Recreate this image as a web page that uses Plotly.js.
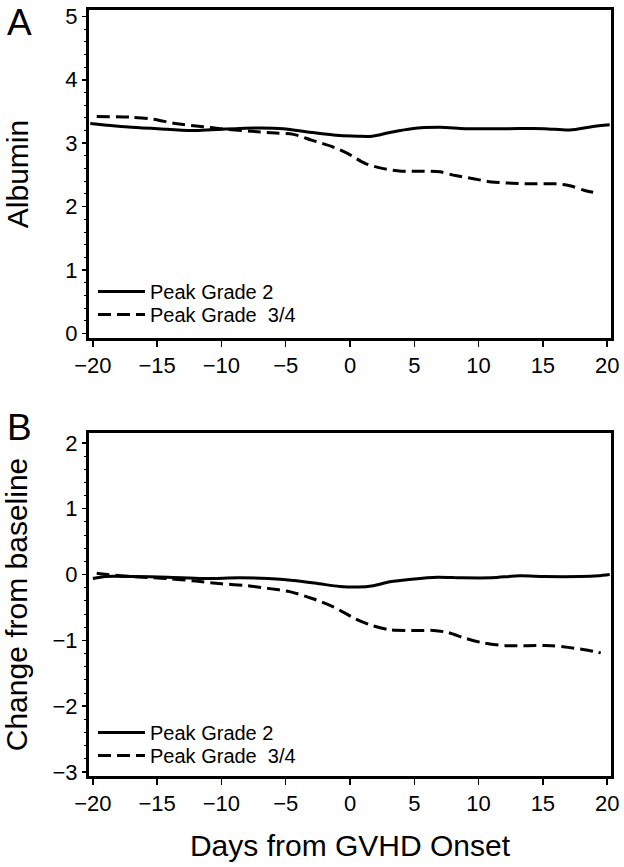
<!DOCTYPE html>
<html>
<head>
<meta charset="utf-8">
<script src="https://cdn.plot.ly/plotly-3.0.1.min.js"></script>
<style>html,body{margin:0;padding:0;background:#fff;}</style>
</head>
<body>
<div id="chart" style="width:624px;height:867px;"></div>
<script>
// ---- data ----
const seriesNames = ["Peak Grade 2", "Peak Grade\u00a0 3/4"];
const panelLabels = ["A", "B"];
const yTitles = ["Albumin", "Change from baseline"];
const xTitle = "Days from GVHD Onset";
const dayTicks = [-20, -15, -10, -5, 0, 5, 10, 15, 20];
const albuminTicks = [0, 1, 2, 3, 4, 5];
const changeTicks = [-3, -2, -1, 0, 1, 2];

const albuminG2Days = [-20.2, -17, -14.2, -12, -10, -7.2, -5.2, -3, -0.8, 0.6, 1.7, 3.1, 4.8, 7, 9, 12.3, 15.1, 17.1, 18.8, 20.2];
const albuminG2Values = [3.31, 3.25, 3.22, 3.2, 3.22, 3.24, 3.23, 3.17, 3.12, 3.11, 3.11, 3.17, 3.23, 3.25, 3.23, 3.23, 3.23, 3.21, 3.26, 3.29];

const albuminG34Days = [-19.7, -17, -15.3, -13.6, -11.4, -9.7, -7.7, -5.8, -4.4, -3, -1.3, -0.2, 1.2, 2.6, 4, 5.4, 7, 8.2, 9.6, 11, 12.6, 14.3, 16, 17.1, 18.2, 19.3];
const albuminG34Values = [3.42, 3.41, 3.38, 3.31, 3.26, 3.22, 3.19, 3.16, 3.14, 3.05, 2.94, 2.84, 2.68, 2.6, 2.56, 2.56, 2.55, 2.49, 2.44, 2.39, 2.37, 2.36, 2.36, 2.33, 2.26, 2.21];

const changeG2Days = [-20, -19, -17, -14.2, -11.4, -8.6, -6.4, -4.4, -2.4, -0.8, 0.6, 1.8, 3.1, 4.8, 6.8, 8.7, 11, 13.2, 15.1, 17.9, 19.3, 20.2];
const changeG2Values = [-0.06, -0.03, -0.03, -0.04, -0.06, -0.05, -0.06, -0.09, -0.14, -0.18, -0.19, -0.17, -0.11, -0.07, -0.04, -0.05, -0.05, -0.02, -0.03, -0.03, -0.02, 0.0];

const changeG34Days = [-19.7, -18.9, -17, -14.2, -12, -10, -8, -6.4, -4.7, -3, -1.3, 0.4, 1.8, 3.1, 4.8, 6.5, 7.6, 9, 10.4, 12.1, 13.8, 15.7, 17.1, 18.5, 19.5];
const changeG34Values = [0.02, 0.0, -0.03, -0.06, -0.1, -0.14, -0.17, -0.21, -0.26, -0.36, -0.49, -0.67, -0.78, -0.84, -0.85, -0.85, -0.88, -0.97, -1.04, -1.08, -1.08, -1.08, -1.11, -1.15, -1.19];

// ---- styling ----
const fontFamily = '"Liberation Sans", Arial, Helvetica, sans-serif';
const solidLine = {color: "#000", width: 3, shape: "spline", smoothing: 0.8};
const dashedLine = {color: "#000", width: 3, dash: "13px,6px", shape: "spline", smoothing: 0.8};

const traces = [
  {x: albuminG2Days, y: albuminG2Values, name: seriesNames[0], mode: "lines", line: solidLine, xaxis: "x", yaxis: "y", legend: "legend"},
  {x: albuminG34Days, y: albuminG34Values, name: seriesNames[1], mode: "lines", line: dashedLine, xaxis: "x", yaxis: "y", legend: "legend2"},
  {x: changeG2Days, y: changeG2Values, name: seriesNames[0], mode: "lines", line: solidLine, xaxis: "x2", yaxis: "y2", legend: "legend3"},
  {x: changeG34Days, y: changeG34Values, name: seriesNames[1], mode: "lines", line: dashedLine, xaxis: "x2", yaxis: "y2", legend: "legend4"}
];

const axisBase = {
  showline: true, mirror: true, linewidth: 3, linecolor: "#000",
  ticks: "outside", tickcolor: "#000", tickwidth: 1.5,
  showgrid: false, zeroline: false,
  tickfont: {family: fontFamily, size: 22, color: "#000"}
};
const yMinor = {ticks: "outside", tickmode: "linear", tick0: 0, dtick: 0.2, ticklen: 2, tickwidth: 1, tickcolor: "#000"};
const titleFont = {family: fontFamily, size: 30, color: "#000"};

function legendAt(y) {
  return {x: 0.0077, xanchor: "left", y: y, yanchor: "middle", itemwidth: 47,
          bgcolor: "rgba(0,0,0,0)", borderwidth: 0,
          font: {family: fontFamily, size: 20, color: "#000"}};
}

const layout = {
  width: 624, height: 867,
  margin: {l: 89, r: 13, t: 10, b: 91},
  paper_bgcolor: "#fff", plot_bgcolor: "#fff",
  font: {family: fontFamily, color: "#000"},
  showlegend: true,
  xaxis: Object.assign({}, axisBase, {domain: [0, 1], anchor: "y", range: [-20.3, 20.3], tickmode: "array", tickvals: dayTicks, ticklen: 6}),
  yaxis: Object.assign({}, axisBase, {domain: [0.5718, 1], anchor: "x", range: [-0.07, 5.1], tickmode: "array", tickvals: albuminTicks, ticklen: 4, minor: yMinor,
    title: {text: yTitles[0], font: titleFont, standoff: 28}}),
  xaxis2: Object.assign({}, axisBase, {domain: [0, 1], anchor: "y2", range: [-20.3, 20.3], tickmode: "array", tickvals: dayTicks, ticklen: 6,
    title: {text: xTitle, font: titleFont, standoff: 20}}),
  yaxis2: Object.assign({}, axisBase, {domain: [0, 0.4478], anchor: "x2", range: [-3.06, 2.15], tickmode: "array", tickvals: changeTicks, ticklen: 4, minor: yMinor,
    title: {text: yTitles[1], font: titleFont, standoff: 16}}),
  legend: legendAt(0.6325),
  legend2: legendAt(0.6025),
  legend3: legendAt(0.0568),
  legend4: legendAt(0.0268),
  annotations: [
    {text: panelLabels[0], xref: "paper", yref: "paper", x: -0.1322, y: 0.9837, xanchor: "center", yanchor: "middle", showarrow: false, font: {family: fontFamily, size: 37, color: "#000"}},
    {text: panelLabels[1], xref: "paper", yref: "paper", x: -0.1332, y: 0.455, xanchor: "center", yanchor: "middle", showarrow: false, font: {family: fontFamily, size: 37, color: "#000"}}
  ]
};

Plotly.newPlot("chart", traces, layout, {displayModeBar: false, staticPlot: true});
</script>
</body>
</html>
